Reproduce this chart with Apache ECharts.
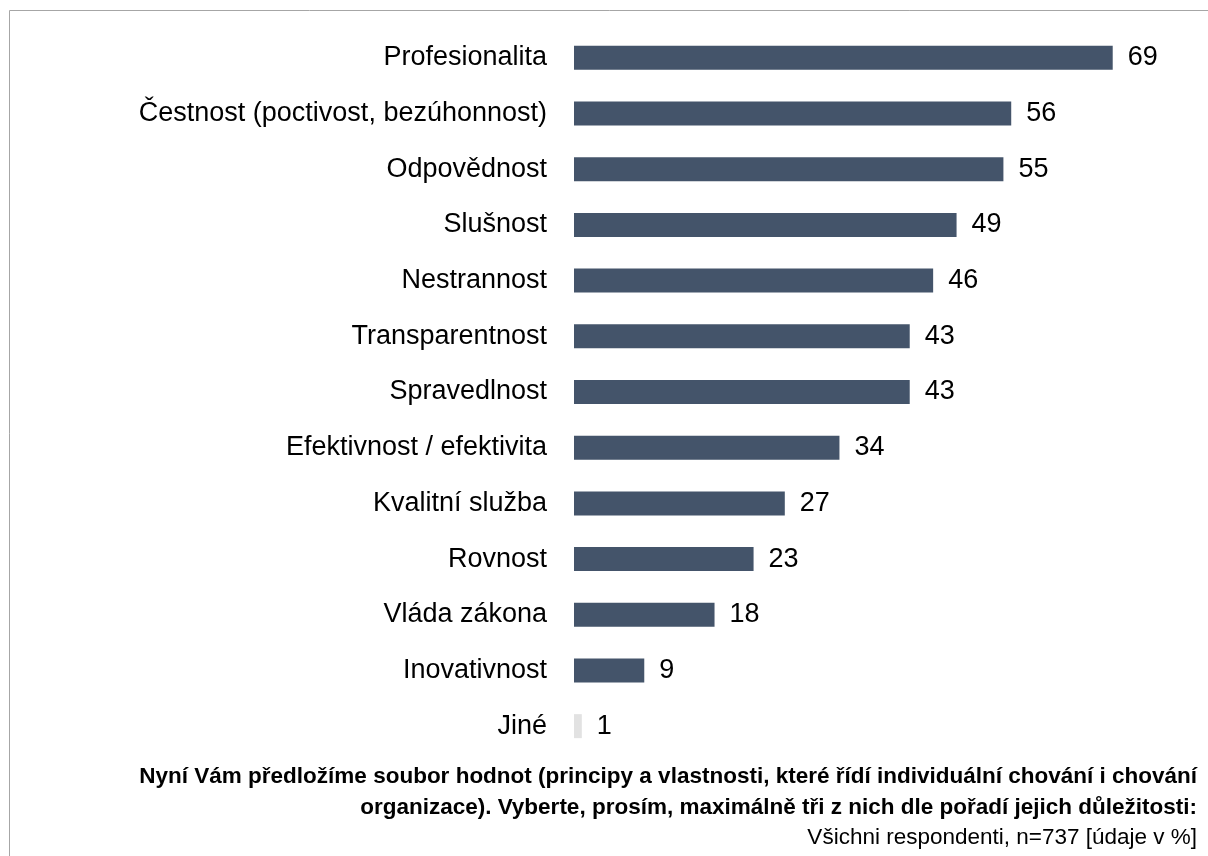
<!DOCTYPE html>
<html>
<head>
<meta charset="utf-8">
<script src="https://cdn.jsdelivr.net/npm/echarts@6/dist/echarts.min.js"></script>
<style>
html,body{margin:0;padding:0;background:#fff;}
#chart{width:1208px;height:856px;}
</style>
</head>
<body>
<div id="chart"></div>
<script>
const categories = ["Profesionalita","Čestnost (poctivost, bezúhonnost)","Odpovědnost","Slušnost","Nestrannost","Transparentnost","Spravedlnost","Efektivnost / efektivita","Kvalitní služba","Rovnost","Vláda zákona","Inovativnost","Jiné"];
const values = [69,56,55,49,46,43,43,34,27,23,18,9,1];
const noteLines = [
  "Nyní Vám předložíme soubor hodnot (principy a vlastnosti, které řídí individuální chování i chování",
  "organizace). Vyberte, prosím, maximálně tři z nich dle pořadí jejich důležitosti:",
  "Všichni respondenti, n=737 [údaje v %]"
];

const FONT = "'Liberation Sans', Arial, sans-serif";
const chart = echarts.init(document.getElementById('chart'));
chart.setOption({
  backgroundColor: '#fff',
  animation: false,
  grid: {left: 574, top: 30, height: 724, right: 9.4},
  xAxis: {type: 'value', min: 0, max: 80, show: false},
  yAxis: {
    type: 'category', inverse: true, data: categories,
    axisLine: {show: false}, axisTick: {show: false},
    axisLabel: {margin: 27, fontSize: 27, color: '#000', fontFamily: FONT}
  },
  series: [{
    type: 'bar',
    barWidth: 24,
    data: values.map((v, i) => ({
      value: v,
      itemStyle: {color: categories[i] === 'Jiné' ? '#e2e2e2' : '#44546a'}
    })),
    label: {show: true, position: 'right', distance: 15, fontSize: 27, color: '#000', fontFamily: FONT}
  }],
  graphic: [
    {type: 'rect', shape: {x: 9.5, y: 10.5, width: 1300, height: 1000}, style: {fill: 'none', stroke: '#a6a6a6', lineWidth: 1}, silent: true},
    {type: 'text', x: 1197, y: 777, style: {text: noteLines[0], font: "bold 22.5px " + FONT, fill: '#000', textAlign: 'right', textVerticalAlign: 'middle'}},
    {type: 'text', x: 1197, y: 808, style: {text: noteLines[1], font: "bold 22.5px " + FONT, fill: '#000', textAlign: 'right', textVerticalAlign: 'middle'}},
    {type: 'text', x: 1197, y: 838, style: {text: noteLines[2], font: "22.5px " + FONT, fill: '#000', textAlign: 'right', textVerticalAlign: 'middle'}}
  ]
});
</script>
</body>
</html>
